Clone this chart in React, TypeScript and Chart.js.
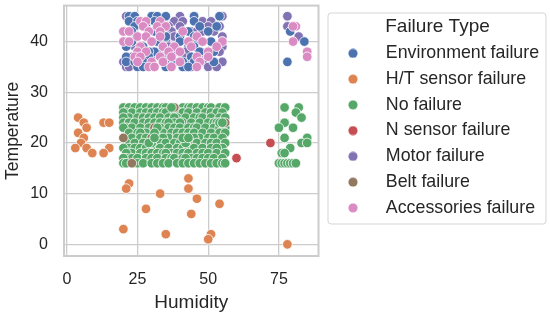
import React, { useEffect, useRef } from "react";
import { Chart, registerables } from "chart.js";

Chart.register(...registerables);

type Pt = [number, number];

const xTickValues = [0, 25, 50, 75];
const yTickValues = [0, 10, 20, 30, 40];

const seriesNames = [
  "Environment failure",
  "H/T sensor failure",
  "No failure",
  "N sensor failure",
  "Motor failure",
  "Belt failure",
  "Accessories failure",
];
const seriesColors = ["#4c72b0", "#dd8452", "#55a868", "#c44e52", "#8172b3", "#937860", "#da8bc3"];

const environment: Pt[] = [
  [22, 45], [24, 45], [30, 45], [32, 45], [35, 45], [45, 45], [54, 45],
  [22, 44], [25, 44], [31, 44], [45, 44], [24, 43], [28, 43], [34, 43], [47, 43], [53, 43],
  [23, 42], [29, 42], [31, 42], [43, 42], [50, 42], [28, 41], [35, 41], [40, 41], [45, 41],
  [23, 40], [32, 40], [40, 40], [51, 40], [46, 40], [21, 39], [27, 39], [34, 39], [45, 39],
  [31, 38], [29, 38], [47, 38], [52, 38], [21, 37], [29, 37], [35, 37], [44, 37],
  [21, 36], [24, 36], [27, 36], [35, 36], [38, 36], [41, 36], [45, 36], [52, 36],
  [25, 35], [27, 35], [35, 35], [41, 35], [43, 35],
  [79, 42], [84, 40], [78, 36],
];

const htSensor: Pt[] = [
  [4, 25], [6, 24], [13, 24], [15, 24], [7, 23], [4, 22], [6, 21], [5, 20], [3, 19], [7, 19], [15, 19],
  [9, 18], [13, 18], [43, 13], [22, 12], [21, 11], [43, 11], [33, 10], [46, 9], [54, 8], [28, 7],
  [44, 6], [20, 3], [35, 2], [51, 2], [50, 1], [78, 0],
];

const noFailure: Pt[] = [
  [20, 27], [22, 27], [24, 27], [26, 27], [28, 27], [30, 27], [32, 27], [34, 27], [35, 27], [41, 27], [43, 27], [44, 27], [46, 27], [48, 27], [50, 27], [51, 27], [54, 27], [56, 27],
  [21, 26], [23, 26], [26, 26], [28, 26], [30, 26], [32, 26], [34, 26], [37, 26], [40, 26], [41, 26], [43, 26], [46, 26], [49, 26], [51, 26], [53, 26], [55, 26], [20, 26], [35, 26],
  [22, 25], [25, 25], [27, 25], [29, 25], [31, 25], [33, 25], [36, 25], [39, 25], [42, 25], [45, 25], [47, 25], [48, 25], [51, 25], [54, 25], [56, 25], [20, 25], [38, 25],
  [20, 24], [22, 24], [24, 24], [27, 24], [29, 24], [31, 24], [33, 24], [35, 24], [38, 24], [41, 24], [44, 24], [47, 24], [50, 24], [52, 24], [53, 24], [40, 24], [36, 24],
  [21, 23], [23, 23], [26, 23], [29, 23], [33, 23], [36, 23], [38, 23], [40, 23], [43, 23], [45, 23], [46, 23], [49, 23], [52, 23], [54, 23], [56, 23], [20, 23],
  [22, 22], [25, 22], [28, 22], [34, 22], [37, 22], [39, 22], [41, 22], [43, 22], [45, 22], [48, 22], [51, 22], [54, 22], [56, 22], [26, 22],
  [23, 21], [26, 21], [28, 21], [33, 21], [36, 21], [39, 21], [47, 21], [50, 21], [52, 21], [55, 21], [45, 21], [34, 21],
  [21, 20], [24, 20], [27, 20], [33, 20], [35, 20], [38, 20], [40, 20], [44, 20], [46, 20], [49, 20], [51, 20], [53, 20], [56, 20],
  [22, 19], [24, 19], [26, 19], [29, 19], [31, 19], [33, 19], [36, 19], [39, 19], [41, 19], [43, 19], [45, 19], [48, 19], [51, 19], [55, 19], [28, 19], [53, 19], [20, 19],
  [23, 18], [26, 18], [28, 18], [30, 18], [32, 18], [34, 18], [37, 18], [39, 18], [41, 18], [43, 18], [46, 18], [48, 18], [50, 18], [53, 18], [56, 18], [21, 18], [35, 18],
  [21, 17], [23, 17], [25, 17], [28, 17], [30, 17], [32, 17], [35, 17], [37, 17], [38, 17], [41, 17], [44, 17], [46, 17], [48, 17], [50, 17], [52, 17], [55, 17], [20, 17], [42, 17],
  [20, 16], [21, 16], [25, 16], [27, 16], [30, 16], [32, 16], [34, 16], [36, 16], [39, 16], [41, 16], [43, 16], [45, 16], [47, 16], [49, 16], [51, 16], [53, 16], [55, 16], [56, 16],
  [77, 27], [82, 27], [81, 26], [83, 25], [77, 24], [75, 23], [80, 23], [77, 21], [85, 21], [83, 20], [85, 20],
  [79, 19], [76, 18], [77, 18], [75, 16], [76, 16], [77, 16], [78, 16], [79, 16], [80, 16], [81, 16],
];

// The same "No failure" class: the points that lie over belt failures in the picture.
const noFailureOverBelt: Pt[] = [
  [37, 27], [30, 20], [29, 20], [42, 20], [41, 21], [43, 21], [32, 23], [31, 22], [54, 24], [55, 24], [31, 21],
];

const nSensor: Pt[] = [
  [60, 17], [72, 20], [42, 19], [47, 20], [44, 19], [31, 22], [27, 17],
];

const motor: Pt[] = [
  [21, 45], [31, 45], [40, 45], [45, 45], [55, 45], [23, 44], [38, 44], [41, 44], [48, 44], [51, 44],
  [36, 43], [40, 43], [50, 43], [54, 43], [20, 42], [37, 42], [44, 42], [46, 42], [48, 42], [52, 42],
  [36, 41], [38, 41], [40, 41], [55, 41], [21, 40], [35, 40], [45, 40], [55, 40], [24, 39], [36, 39], [43, 39], [55, 39],
  [25, 38], [33, 38], [38, 38], [42, 38], [54, 38], [23, 37], [30, 37], [41, 37], [47, 37],
  [20, 36], [38, 36], [43, 36], [48, 36], [55, 36], [21, 35], [22, 35], [42, 35], [44, 35], [50, 35], [53, 35],
  [78, 45], [78, 43], [82, 41],
];

const belt: Pt[] = [
  [20, 21], [23, 16], [30, 21], [38, 27], [42, 21], [56, 24], [31, 23],
];

const accessories: Pt[] = [
  [26, 44], [28, 44], [33, 44], [27, 43], [32, 43], [35, 43], [29, 42], [20, 42], [22, 42], [33, 42], [41, 42],
  [25, 41], [28, 41], [33, 41], [46, 41], [20, 40], [22, 40], [30, 40], [43, 40], [48, 40], [55, 40],
  [26, 39], [34, 39], [38, 39], [44, 39], [53, 39], [25, 38], [28, 38], [36, 38], [40, 38], [50, 38],
  [24, 37], [26, 37], [33, 37], [37, 37], [46, 37], [50, 37], [25, 36], [30, 36], [34, 36], [40, 36], [47, 36],
  [29, 35], [31, 35], [37, 35], [46, 35], [81, 43], [80, 43], [80, 40], [85, 38], [85, 37],
];

const seriesPoints = [environment, htSensor, noFailure, nSensor, motor, belt, accessories];
const drawOrder = [4, 6, 2, 7, 5, 1, 3];

function legendDot(color: string) {
  const c = document.createElement("canvas");
  c.width = 10;
  c.height = 10;
  const g = c.getContext("2d")!;
  g.fillStyle = color;
  g.beginPath();
  g.arc(5, 5, 4.6, 0, Math.PI * 2);
  g.fill();
  return c;
}

const framePlugin = {
  id: "frames",
  afterLayout(chart: any) {
    const l = chart.legend;
    const width = 233;
    const top = 15.5;
    l.left = 321;
    l.right = 321 + width;
    l.width = width;
    l.top = top;
    l.bottom = top + 220;
    l.height = 220;
  },
  beforeDatasetsDraw(chart: any) {
    const { ctx, chartArea: a } = chart;
    ctx.save();
    ctx.strokeStyle = "#cccccc";
    ctx.lineWidth = 2;
    ctx.strokeRect(a.left, a.top, a.right - a.left, a.bottom - a.top);
    ctx.restore();
  },
  afterDraw(chart: any) {
    const { ctx } = chart;
    ctx.save();
    ctx.strokeStyle = "#d5d5d5";
    ctx.lineWidth = 1;
    ctx.beginPath();
    ctx.roundRect(328, 13, 218, 211, 3);
    ctx.stroke();
    ctx.restore();
  },
};

const clearPadding = (axis: any) => {
  axis.paddingTop = 0;
  axis.paddingBottom = 0;
  axis.paddingLeft = 0;
  axis.paddingRight = 0;
};

const pointStyle = (color: string) => ({
  backgroundColor: color,
  borderColor: "#ffffff",
  borderWidth: 0.8,
  pointRadius: 4.8,
});

export default function App() {
  const ref = useRef<HTMLCanvasElement>(null);
  useEffect(() => {
    document.body.style.margin = "0";
    const textColor = "#262626";
    const family = "'Liberation Sans', Arial, sans-serif";
    const chart = new Chart(ref.current!, {
      type: "scatter",
      data: {
        datasets: [
          ...seriesNames.map((name, i) => ({
            label: name,
            data: seriesPoints[i].map(([x, y]) => ({ x, y })),
            ...pointStyle(seriesColors[i]),
            order: drawOrder[i],
          })),
          {
            label: "No failure",
            data: noFailureOverBelt.map(([x, y]) => ({ x, y })),
            ...pointStyle(seriesColors[2]),
            order: 0,
          },
        ],
      },
      plugins: [framePlugin],
      options: {
        animation: false,
        responsive: false,
        layout: { padding: { left: 0, top: 4, right: 231.5, bottom: 0 } },
        scales: {
          x: {
            type: "linear",
            min: -1,
            max: 89,
            afterBuildTicks: (axis: any) => {
              axis.ticks = xTickValues.map((value) => ({ value }));
            },
            afterFit: (axis: any) => {
              axis.height = 60;
              clearPadding(axis);
            },
            grid: { color: "#cccccc", lineWidth: 1.3, drawTicks: false },
            border: { display: false },
            ticks: { color: textColor, font: { family, size: 16 }, padding: 14, maxRotation: 0 },
            title: { display: true, text: "Humidity", color: textColor, font: { family, size: 19 }, padding: { top: 4, bottom: 2 } },
          },
          y: {
            type: "linear",
            min: -2.3,
            max: 47.1,
            afterBuildTicks: (axis: any) => {
              axis.ticks = yTickValues.map((value) => ({ value }));
            },
            afterFit: (axis: any) => {
              axis.width = 64;
              clearPadding(axis);
            },
            grid: { color: "#cccccc", lineWidth: 1.3, drawTicks: false },
            border: { display: false },
            ticks: { color: textColor, font: { family, size: 16 }, padding: 16 },
            title: { display: true, text: "Temperature", color: textColor, font: { family, size: 17.5 }, padding: { top: 3, bottom: 4 } },
          },
        },
        plugins: {
          tooltip: { enabled: false },
          legend: {
            position: "chartArea",
            align: "start",
            labels: {
              color: textColor,
              font: { family, size: 17.8 },
              usePointStyle: true,
              pointStyleWidth: 48,
              boxHeight: 7,
              padding: 7.95,
              sort: (a: any, b: any) => a.datasetIndex - b.datasetIndex,
              filter: (item: any) => item.datasetIndex < seriesNames.length,
              generateLabels: (c: any) =>
                Chart.defaults.plugins.legend.labels.generateLabels(c).map((item: any) => ({
                  ...item,
                  pointStyle: legendDot(seriesColors[item.datasetIndex] ?? seriesColors[2]),
                })),
            },
            title: {
              display: true,
              text: "Failure Type",
              color: textColor,
              font: { family, size: 19, lineHeight: 1 },
              padding: { top: 2, bottom: 0 },
            },
          },
        },
      },
    } as any);
    return () => chart.destroy();
  }, []);
  return <canvas ref={ref} width={550} height={316} style={{ display: "block" }} />;
}
